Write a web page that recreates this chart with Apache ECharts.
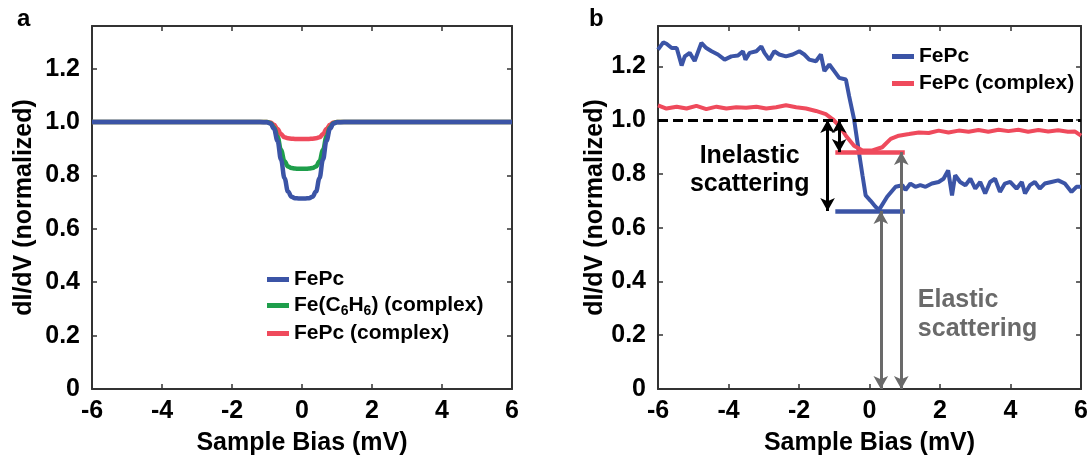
<!DOCTYPE html>
<html><head><meta charset="utf-8">
<script src="https://cdn.jsdelivr.net/npm/echarts@6/dist/echarts.min.js"></script>
<style>html,body{margin:0;padding:0;background:#fff}#c{width:1091px;height:461px}</style>
</head><body><div id="c"></div>
<script>
// ---------- data ----------
const xTickLabels = ['-6','-4','-2','0','2','4','6'];
const yTickLabels = ['0','0.2','0.4','0.6','0.8','1.0','1.2'];

// panel a (simulated spectra)
const biasA = [-6,-1.2,-1.0,-0.9,-0.8,-0.7,-0.6,-0.5,-0.4,-0.3,-0.2,-0.1,0,0.1,0.2,0.3,0.4,0.5,0.6,0.7,0.8,0.9,1.0,1.2,6];
const fepcA    = [1,1,0.999,0.995,0.975,0.93,0.86,0.79,0.74,0.72,0.715,0.714,0.714,0.714,0.715,0.72,0.74,0.79,0.86,0.93,0.975,0.995,0.999,1,1];
const fec6h6A  = [1,1,1,0.996,0.98,0.945,0.895,0.853,0.834,0.828,0.826,0.825,0.825,0.825,0.826,0.828,0.834,0.853,0.895,0.945,0.98,0.996,1,1,1];
const complexA = [1,1,1,0.998,0.99,0.974,0.955,0.943,0.939,0.938,0.937,0.937,0.937,0.937,0.937,0.938,0.939,0.943,0.955,0.974,0.99,0.998,1,1,1];

// panel b (measured spectra)
const biasB1 = [-6,-5.85,-5.76,-5.61,-5.47,-5.33,-5.24,-5.10,-4.96,-4.77,-4.63,-4.48,-4.30,-4.11,-3.92,-3.73,-3.59,-3.52,-3.40,-3.21,-3.07,-2.98,-2.84,-2.70,-2.56,-2.37,-2.18,-1.99,-1.85,-1.71,-1.52,-1.38,-1.28,-1.14,-1.0,-0.86,-0.67,-0.58,-0.44,-0.30,-0.20,-0.11,0.03,0.17,0.27,0.5,0.74,0.93,1.02,1.16,1.30,1.44,1.59,1.77,1.96,2.10,2.23,2.34,2.43,2.57,2.72,2.86,3.0,3.14,3.28,3.42,3.56,3.70,3.84,3.99,4.17,4.32,4.41,4.55,4.69,4.83,4.97,5.16,5.35,5.54,5.73,5.87,6.0];
const fepcB  = [1.262,1.289,1.284,1.268,1.268,1.203,1.237,1.25,1.22,1.287,1.268,1.256,1.244,1.225,1.237,1.24,1.256,1.225,1.25,1.256,1.274,1.25,1.225,1.256,1.244,1.237,1.244,1.256,1.244,1.225,1.219,1.244,1.182,1.207,1.182,1.157,1.151,1.09,1.004,0.88,0.795,0.72,0.70,0.678,0.666,0.715,0.752,0.758,0.74,0.764,0.752,0.758,0.752,0.764,0.77,0.782,0.813,0.72,0.795,0.77,0.758,0.782,0.745,0.77,0.727,0.77,0.782,0.733,0.764,0.77,0.745,0.77,0.727,0.758,0.77,0.745,0.764,0.77,0.776,0.764,0.733,0.752,0.752];
const biasB2 = [-6,-5.76,-5.47,-5.19,-4.91,-4.63,-4.34,-4.06,-3.78,-3.5,-3.21,-2.93,-2.65,-2.37,-2.08,-1.80,-1.52,-1.24,-1.05,-0.86,-0.67,-0.44,-0.2,0.08,0.36,0.6,0.83,1.12,1.4,1.68,1.96,2.24,2.53,2.81,3.09,3.37,3.66,3.94,4.22,4.5,4.79,5.07,5.35,5.63,5.82,6.0];
const complexB = [1.055,1.043,1.05,1.043,1.053,1.041,1.05,1.043,1.048,1.046,1.05,1.043,1.048,1.055,1.048,1.043,1.034,1.022,1.004,0.979,0.942,0.905,0.887,0.887,0.899,0.93,0.942,0.948,0.954,0.952,0.961,0.954,0.961,0.957,0.963,0.957,0.964,0.959,0.964,0.957,0.963,0.958,0.962,0.957,0.958,0.942];

// annotations in panel b: [x, yFrom, yTo]
const levelRange = [-0.97, 1.0];           // x-extent of the level bars
const levelFePc = 0.662, levelComplex = 0.881, refLevel = 1.0;
const inelasticArrows = [[-1.19, 1.0, 0.662], [-0.86, 1.0, 0.881]];
const elasticArrows = [[0.32, 0.0, 0.662], [0.90, 0.0, 0.881]];
const inelasticLabel = [-3.40, 0.815], elasticLabel = [1.37, 0.275];

// ---------- styling ----------
const FONT = "'Liberation Sans', Arial, sans-serif";
const BLUE = '#3b54a6', GREEN = '#1e9e4b', RED = '#ef4a5c', GRAY = '#6a6a6a';
const zip = (xs, ys) => xs.map((x, i) => [x, ys[i]]);

function xAxes(gi) {
  return [
    { gridIndex: gi, type: 'value', min: -6, max: 6, interval: 2, position: 'bottom',
      name: 'Sample Bias (mV)', nameLocation: 'middle', nameGap: 42,
      nameTextStyle: { fontFamily: FONT, fontSize: 25, fontWeight: 'bold', color: '#000' },
      axisLine: { onZero: false, lineStyle: { color: '#333', width: 2 } },
      axisTick: { inside: true, length: 5, lineStyle: { color: '#333', width: 1.5 } },
      axisLabel: { margin: 10, fontFamily: FONT, fontSize: 25, fontWeight: 'bold', color: '#000',
        formatter: v => xTickLabels[Math.round((v + 6) / 2)] },
      splitLine: { show: false } },
    { gridIndex: gi, type: 'value', min: -6, max: 6, interval: 2, position: 'top',
      axisLine: { onZero: false, lineStyle: { color: '#333', width: 2 } },
      axisTick: { inside: true, length: 5, lineStyle: { color: '#333', width: 1.5 } },
      axisLabel: { show: false }, splitLine: { show: false } }
  ];
}
function yAxes(gi, max, gap) {
  return [
    { gridIndex: gi, type: 'value', min: 0, max: max, interval: 0.2, position: 'left',
      name: 'dI/dV (normalized)', nameLocation: 'middle', nameGap: gap,
      nameTextStyle: { fontFamily: FONT, fontSize: 25, fontWeight: 'bold', color: '#000' },
      axisLine: { onZero: false, lineStyle: { color: '#333', width: 2 } },
      axisTick: { inside: true, length: 5, lineStyle: { color: '#333', width: 1.5 } },
      axisLabel: { margin: 12, showMaxLabel: false, fontFamily: FONT, fontSize: 25, fontWeight: 'bold', color: '#000',
        formatter: v => { const i = Math.round(v / 0.2); return Math.abs(v - i * 0.2) < 1e-6 ? yTickLabels[i] : ''; } },
      splitLine: { show: false } },
    { gridIndex: gi, type: 'value', min: 0, max: max, interval: 0.2, position: 'right',
      axisLine: { onZero: false, lineStyle: { color: '#333', width: 2 } },
      axisTick: { inside: true, length: 5, lineStyle: { color: '#333', width: 1.5 } },
      axisLabel: { show: false }, splitLine: { show: false } }
  ];
}

function arrowPairs(list, color) {
  return list.map(a => [
    { coord: [a[0], a[1]], symbol: 'arrow', lineStyle: { color: color, width: 3, type: 'solid' }, itemStyle: { color: color } },
    { coord: [a[0], a[2]], symbol: 'arrow' }
  ]);
}

const chart = echarts.init(document.getElementById('c'), null, { renderer: 'canvas' });
const legendText = { fontFamily: FONT, fontSize: 21, fontWeight: 'bold', color: '#000',
  rich: { sub: { fontFamily: FONT, fontSize: 14, fontWeight: 'bold', color: '#000', padding: [11, 0, 0, 0] } } };

chart.setOption({
  animation: false,
  backgroundColor: '#fff',
  textStyle: { fontFamily: FONT },
  title: [
    { text: 'a', left: 12, top: 2, textStyle: { fontFamily: FONT, fontSize: 24, fontWeight: 'bold', color: '#000' } },
    { text: 'b', left: 584, top: 2, textStyle: { fontFamily: FONT, fontSize: 24, fontWeight: 'bold', color: '#000' } }
  ],
  grid: [
    { left: 92, top: 26, width: 420, height: 366 },
    { left: 658, top: 26, width: 425, height: 366 }
  ],
  xAxis: [...xAxes(0), ...xAxes(1)],
  yAxis: [...yAxes(0, 1.36, 55), ...yAxes(1, 1.35, 41)],
  legend: [
    { data: ['FePc', 'Fe(C6H6) (complex)', 'FePc (complex)'], orient: 'vertical', left: 262, top: 264,
      icon: 'rect', itemWidth: 22, itemHeight: 5, itemGap: 5, textStyle: legendText,
      formatter: n => n === 'Fe(C6H6) (complex)' ? 'Fe(C{sub|6}H{sub|6}) (complex)' : n },
    { data: ['FePc ', 'FePc (complex) '], orient: 'vertical', left: 887, top: 41,
      icon: 'rect', itemWidth: 22, itemHeight: 5, itemGap: 6, textStyle: legendText }
  ],
  series: [
    { name: 'FePc (complex)', type: 'line', xAxisIndex: 0, yAxisIndex: 0, data: zip(biasA, complexA),
      showSymbol: false, smooth: 0.4, smoothMonotone: 'x', lineStyle: { color: RED, width: 4.5 }, itemStyle: { color: RED } },
    { name: 'Fe(C6H6) (complex)', type: 'line', xAxisIndex: 0, yAxisIndex: 0, data: zip(biasA, fec6h6A),
      showSymbol: false, smooth: 0.4, smoothMonotone: 'x', lineStyle: { color: GREEN, width: 4.5 }, itemStyle: { color: GREEN } },
    { name: 'FePc', type: 'line', xAxisIndex: 0, yAxisIndex: 0, data: zip(biasA, fepcA),
      showSymbol: false, smooth: 0.4, smoothMonotone: 'x', lineStyle: { color: BLUE, width: 4.5 }, itemStyle: { color: BLUE } },

    { name: 'FePc ', type: 'line', xAxisIndex: 2, yAxisIndex: 2, data: zip(biasB1, fepcB),
      showSymbol: false, lineStyle: { color: BLUE, width: 4 }, itemStyle: { color: BLUE } },
    { name: 'FePc (complex) ', type: 'line', xAxisIndex: 2, yAxisIndex: 2, data: zip(biasB2, complexB),
      showSymbol: false, lineStyle: { color: RED, width: 4 }, itemStyle: { color: RED },
      markLine: { silent: true, animation: false, symbolSize: [11, 13], label: { show: false },
        data: [
          [ { coord: [levelRange[0], levelComplex], symbol: 'none', lineStyle: { color: RED, width: 4.5, type: 'solid' } },
            { coord: [levelRange[1], levelComplex], symbol: 'none' } ],
          [ { coord: [levelRange[0], levelFePc], symbol: 'none', lineStyle: { color: BLUE, width: 4.5, type: 'solid' } },
            { coord: [levelRange[1], levelFePc], symbol: 'none' } ],
          [ { coord: [-6, refLevel], symbol: 'none', lineStyle: { color: '#000', width: 3, type: [10, 5] } },
            { coord: [6, refLevel], symbol: 'none' } ],
          ...arrowPairs(inelasticArrows, '#000'),
          ...arrowPairs(elasticArrows, GRAY)
        ] },
      markPoint: { silent: true, symbolSize: 0,
        data: [
          { coord: inelasticLabel, label: { show: true, position: 'inside', align: 'center', formatter: 'Inelastic\nscattering',
              fontFamily: FONT, fontSize: 25, fontWeight: 'bold', color: '#000', lineHeight: 28 } },
          { coord: elasticLabel, label: { show: true, position: 'inside', align: 'left', formatter: 'Elastic\nscattering',
              fontFamily: FONT, fontSize: 25, fontWeight: 'bold', color: GRAY, lineHeight: 29 } }
        ] } }
  ]
});
</script>
</body></html>
